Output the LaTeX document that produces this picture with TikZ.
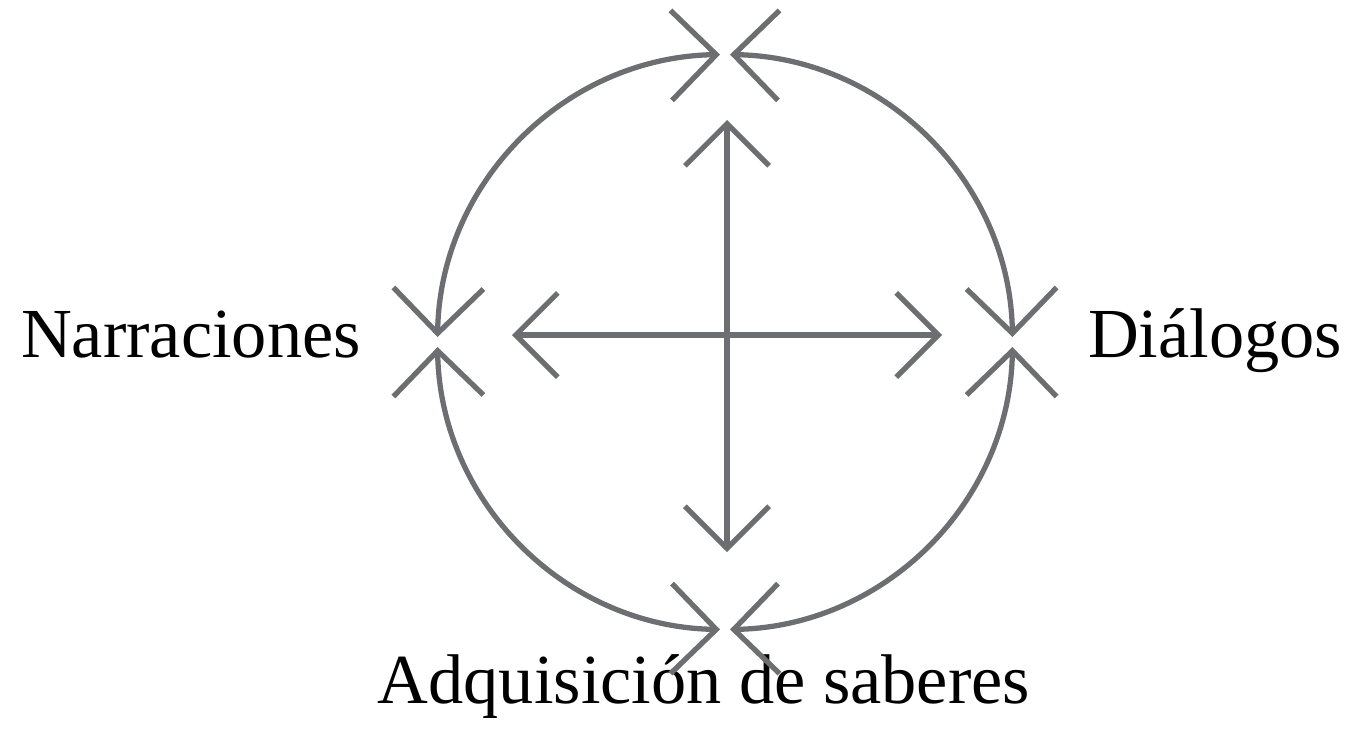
\documentclass[tikz,border=0pt]{standalone}
\usepackage{fontspec}
\setmainfont{Liberation Serif}
\usepackage{xcolor}
\definecolor{ggray}{HTML}{6D6E71}
\usepackage{tikz}
\usetikzlibrary{calc}
\usetikzlibrary{arrows.meta}
\usetikzlibrary{positioning}
\begin{document}
\begin{tikzpicture}[x=0.01cm,y=0.01cm,
  lbl/.style={anchor=base,font=\fontsize{20}{24}\selectfont},
  barb/.style={ggray,line width=1.5pt,{Straight Barb[length=4.2mm,width=8.4mm]}-{Straight Barb[length=4.2mm,width=8.4mm]}},
  ringbarb/.style={ggray,line width=1.5pt,{Straight Barb[length=4.5mm,width=9mm]}-{Straight Barb[length=4.5mm,width=9mm]}}]
\useasboundingbox (0,0) rectangle (1352,729);
\coordinate (c) at (725,387);
\coordinate (e) at ($(c)+(1:287.5)$);
\coordinate (n) at ($(c)+(91:287.5)$);
\coordinate (w) at ($(c)+(181:287.5)$);
\coordinate (s) at ($(c)+(271:287.5)$);
\coordinate (up) at (727,609);
\coordinate (down) at (727,177);
\coordinate (left) at (512,394);
\coordinate (right) at (942,394);
\node[lbl] (narr) at (191,372) {Narraciones};
\node[lbl] (dial) at (1215,372) {Diálogos};
\node[lbl] (adq) at (704,26) {Adquisición de saberes};
\draw[ringbarb] (e) arc[start angle=1,end angle=89,radius=287.5];
\draw[ringbarb] (n) arc[start angle=91,end angle=179,radius=287.5];
\draw[ringbarb] (w) arc[start angle=181,end angle=269,radius=287.5];
\draw[ringbarb] (s) arc[start angle=271,end angle=359,radius=287.5];
\draw[barb] (up) -- (down);
\draw[barb] (left) -- (right);
\end{tikzpicture}
\end{document}
